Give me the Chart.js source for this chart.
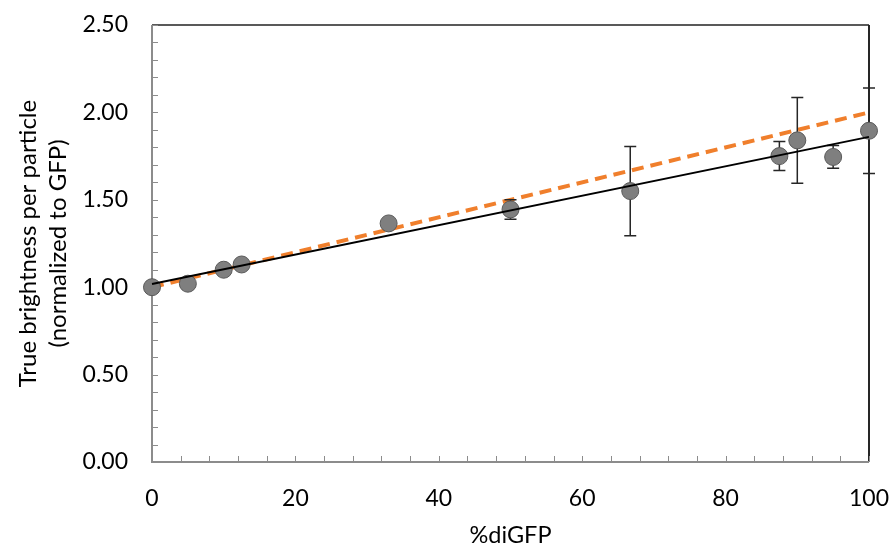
<!DOCTYPE html>
<html>
<head>
<meta charset="utf-8">
<script src="https://cdn.jsdelivr.net/npm/chart.js@4"></script>
<style>
  html, body { margin: 0; padding: 0; background: #fff; }
</style>
</head>
<body>
<canvas id="chart" width="891" height="547"></canvas>
<script>
// measured brightness vs. fraction of diGFP
const pctDiGFP = [0, 5, 10, 12.5, 33, 50, 66.7, 87.5, 90, 95, 100];
const brightness = [1.00, 1.02, 1.10, 1.13, 1.365, 1.445, 1.55, 1.75, 1.84, 1.745, 1.895];
const brightnessErr = [0.02, 0.02, 0.02, 0.02, 0.02, 0.056, 0.255, 0.083, 0.245, 0.065, 0.245];

// linear fit of the data and the ideal (1 -> 2) line
const lineX = [0, 100];
const fitY = [1.018, 1.86];
const idealY = [1.0, 2.0];

const yTicks = [0, 0.5, 1.0, 1.5, 2.0, 2.5];
const xTicks = [0, 20, 40, 60, 80, 100];

const FONT = 'Lato';
const SCATTER = 1;

const toPoints = (xs, ys) => xs.map((x, i) => ({ x, y: ys[i] }));

// plot frame + small inward ticks
const frame = {
  id: 'frame',
  beforeDatasetsDraw(chart) {
    const { ctx, chartArea: a, scales: { x, y } } = chart;
    ctx.save();
    ctx.lineWidth = 2;
    ctx.strokeStyle = '#595959';
    ctx.beginPath();
    ctx.moveTo(a.left, a.top);
    ctx.lineTo(a.right, a.top);
    ctx.stroke();
    ctx.strokeStyle = '#262626';
    ctx.beginPath();
    ctx.moveTo(a.right, a.top);
    ctx.lineTo(a.right, a.bottom);
    ctx.stroke();

    ctx.strokeStyle = '#8c8c8c';
    ctx.beginPath();
    ctx.moveTo(a.left, a.top);
    ctx.lineTo(a.left, a.bottom);
    ctx.lineTo(a.right, a.bottom);
    ctx.stroke();

    ctx.lineWidth = 1;
    ctx.beginPath();
    for (let i = 0; i <= 25; i++) {
      const py = Math.round(y.getPixelForValue(i / 10)) + 0.5;
      ctx.moveTo(a.left, py);
      ctx.lineTo(a.left + 6, py);
    }
    for (let v = 0; v <= 100; v += 4) {
      const px = Math.round(x.getPixelForValue(v)) + 0.5;
      ctx.moveTo(px, a.bottom);
      ctx.lineTo(px, a.bottom - 6);
    }
    ctx.stroke();
    ctx.restore();
  }
};

// error bars go in just before the markers so the markers sit on top
const errorBars = {
  id: 'errorBars',
  beforeDatasetDraw(chart, args) {
    if (args.index !== SCATTER) return;
    const { ctx, scales: { x, y } } = chart;
    ctx.save();
    ctx.strokeStyle = '#262626';
    ctx.lineWidth = 1.5;
    pctDiGFP.forEach((v, i) => {
      const px = x.getPixelForValue(v);
      const hi = y.getPixelForValue(brightness[i] + brightnessErr[i]);
      const lo = y.getPixelForValue(brightness[i] - brightnessErr[i]);
      ctx.beginPath();
      ctx.moveTo(px, hi);
      ctx.lineTo(px, lo);
      ctx.moveTo(px - 6, hi);
      ctx.lineTo(px + 6, hi);
      ctx.moveTo(px - 6, lo);
      ctx.lineTo(px + 6, lo);
      ctx.stroke();
    });
    ctx.restore();
  }
};

new Chart(document.getElementById('chart'), {
  type: 'scatter',
  data: {
    datasets: [
      {
        type: 'line',
        data: toPoints(lineX, fitY),
        borderColor: '#000',
        borderWidth: 2,
        pointRadius: 0,
        order: 0,
        clip: false
      },
      {
        data: toPoints(pctDiGFP, brightness),
        backgroundColor: '#7f7f7f',
        borderColor: '#595959',
        borderWidth: 1,
        pointRadius: 8.5,
        pointHoverRadius: 8.5,
        order: 1,
        clip: false
      },
      {
        type: 'line',
        data: toPoints(lineX, idealY),
        borderColor: '#f07f2c',
        borderWidth: 4,
        borderDash: [12, 7],
        pointRadius: 0,
        order: 2,
        clip: false
      }
    ]
  },
  options: {
    responsive: false,
    animation: false,
    events: [],
    layout: { padding: { top: 25, right: 22, left: 0, bottom: 0 } },
    plugins: {
      legend: { display: false },
      tooltip: { enabled: false }
    },
    scales: {
      x: {
        type: 'linear',
        min: 0,
        max: 100,
        grid: { display: false, drawTicks: false },
        border: { display: false },
        afterBuildTicks: s => { s.ticks = xTicks.map(value => ({ value })); },
        afterFit: s => {
          s.height = 85;
          s.paddingLeft = 0;
          s.paddingRight = 0;
        },
        ticks: {
          padding: 23,
          color: '#000',
          font: { family: FONT, size: 23 },
          maxRotation: 0
        },
        title: {
          display: true,
          text: '%diGFP',
          color: '#000',
          font: { family: FONT, size: 23.5, lineHeight: 1.0 },
          padding: { top: 0, bottom: 0 }
        }
      },
      y: {
        min: 0,
        max: 2.5,
        grid: { display: false, drawTicks: false },
        border: { display: false },
        afterBuildTicks: s => { s.ticks = yTicks.map(value => ({ value })); },
        afterFit: s => {
          s.width = 152;
          s.paddingTop = 0;
          s.paddingBottom = 0;
        },
        ticks: {
          padding: 24,
          color: '#000',
          font: { family: FONT, size: 23 },
          callback: v => v.toFixed(2)
        },
        title: {
          display: true,
          text: ['True brightness per particle', '(normalized to GFP)'],
          color: '#000',
          font: { family: FONT, size: 24, lineHeight: 1.25 },
          padding: { top: 13, bottom: 0 }
        }
      }
    }
  },
  plugins: [frame, errorBars]
});
</script>
</body>
</html>
